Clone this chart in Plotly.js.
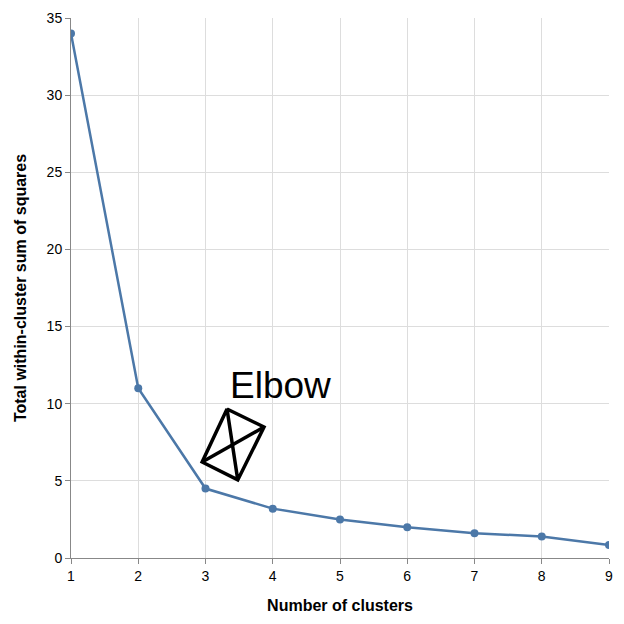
<!DOCTYPE html>
<html><head><script src="https://cdn.plot.ly/plotly-3.0.1.min.js"></script>
<style>body{margin:0}</style></head><body>
<div id="c" style="width:624px;height:624px"></div>
<script>
const clusters = [1,2,3,4,5,6,7,8,9];
const wss = [34.0,11.0,4.5,3.2,2.5,2.0,1.6,1.4,0.85];
const markX = [3.32,3.87,3.48,2.95,3.32,3.48,null,2.95,3.87];
const markY = [9.66,8.49,5.06,6.22,9.66,5.06,null,6.22,8.49];
const labelText = "Elbow";
const F = "Liberation Sans, Arial, sans-serif";
Plotly.newPlot('c', [
 {x:clusters,y:wss,mode:'lines+markers',line:{color:'#4c78a8',width:2.5},marker:{color:'#4c78a8',size:8}},
 {x:markX,y:markY,mode:'lines',line:{color:'black',width:3.5},connectgaps:false}
],{
 width:624,height:624,showlegend:false,
 margin:{l:71,r:15,t:18,b:66},
 plot_bgcolor:'white',paper_bgcolor:'white',
 font:{family:F,size:14,color:'black'},
 xaxis:{range:[1,9],dtick:1,showgrid:true,gridcolor:'#ddd',zeroline:false,showline:true,linecolor:'#888',ticks:'outside',ticklen:5,tickcolor:'#888',
  title:{text:'<b>Number of clusters</b>',font:{size:16},standoff:17}},
 yaxis:{range:[0,35],dtick:5,showgrid:true,gridcolor:'#ddd',zeroline:false,showline:true,linecolor:'#888',ticks:'outside',ticklen:5,tickcolor:'#888',
  title:{text:'<b>Total within-cluster sum of squares</b>',font:{size:16},standoff:16}},
 annotations:[{x:4.11,y:11.2,text:labelText,showarrow:false,font:{size:37,family:F,color:'black'}}]
},{displayModeBar:false});
</script></body></html>
